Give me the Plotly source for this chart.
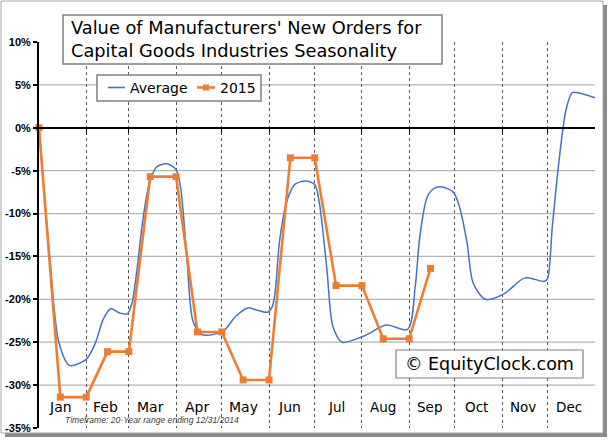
import plotly.graph_objects as go

# ---- data ----
months = ["Jan", "Feb", "Mar", "Apr", "May", "Jun", "Jul", "Aug", "Sep", "Oct", "Nov", "Dec"]
month_start_day = [0, 31, 59, 90, 120, 151, 181, 212, 243, 273, 304, 334]
month_end_day = [31, 59, 90, 120, 151, 181, 212, 243, 273, 304, 334, 365]

avg_day = [0, 7, 13, 20, 31, 37, 42, 47, 53, 58, 61, 64, 68, 72, 77, 84, 90, 93, 97, 101, 106, 110,
           121, 129, 137, 144, 150, 153, 155, 158, 163, 168, 175, 181, 184, 189, 193, 199,
           213, 228, 242, 247, 250, 255, 260, 265, 272, 276, 281, 285, 293,
           305, 319, 332, 334, 337, 342, 346, 350, 353, 365]
avg_val = [0.0, -15.0, -25.0, -27.7, -27.0, -25.1, -22.4, -21.1, -21.6, -21.7, -20.5, -17.0, -11.0, -6.8, -4.6, -4.2, -4.9, -7.0, -15.0, -22.5, -24.0, -24.2,
           -23.7, -22.0, -21.0, -21.3, -21.5, -20.9, -19.2, -13.1, -8.4, -6.6, -6.2, -6.6, -8.7, -16.5, -23.2, -25.0,
           -24.3, -23.0, -23.5, -18.5, -12.7, -8.0, -7.0, -6.9, -7.5, -9.2, -13.4, -18.1, -20.0,
           -19.4, -17.5, -17.9, -17.5, -11.5, -2.9, 2.1, 4.1, 4.1, 3.5]

y2015_day = [0, 14, 31, 45, 59, 73, 90, 104, 120, 134, 151, 165, 181, 195, 212, 226, 243, 257]
y2015_val = [0.0, -31.4, -31.4, -26.1, -26.1, -5.7, -5.7, -23.8, -23.8, -29.4, -29.4, -3.5, -3.5, -18.4, -18.4, -24.6, -24.6, -16.4]

y_ticks = [-35, -30, -25, -20, -15, -10, -5, 0, 5, 10]
y_tick_text = ["-35%", "-30%", "-25%", "-20%", "-15%", "-10%", "-5%", "0%", "5%", "10%"]

BLUE = "#4472C4"
ORANGE = "#ED7D31"
FONT = "DejaVu Sans"

fig = go.Figure()
fig.add_trace(go.Scatter(x=avg_day, y=avg_val, mode="lines", name="Average",
                         line=dict(color=BLUE, width=1.5, shape="spline", smoothing=0.8),
                         cliponaxis=False))
fig.add_trace(go.Scatter(x=y2015_day, y=y2015_val, mode="lines+markers", name="2015",
                         line=dict(color=ORANGE, width=2.6),
                         marker=dict(symbol="square", size=7, color=ORANGE),
                         cliponaxis=False))

W, H = 609, 443
L, R, T, B = 39, 14, 42, 15
PW, PH = W - L - R, H - T - B


def px(x):
    return (x - L) / PW


def py(y):
    return (H - B - y) / PH


shapes = []
# outer frame with shadow
shapes.append(dict(type="rect", xref="paper", yref="paper", x0=px(5), x1=px(607), y0=py(437), y1=py(5),
                   fillcolor="#8a8a8a", line=dict(width=0), layer="below"))
shapes.append(dict(type="rect", xref="paper", yref="paper", x0=px(1), x1=px(603), y0=py(433), y1=py(1),
                   fillcolor="white", line=dict(color="#A6A6A6", width=1), layer="below"))
# horizontal gridlines
for v in y_ticks:
    if v in (0, 10, -35):
        continue
    shapes.append(dict(type="line", xref="paper", yref="y", x0=0, x1=1, y0=v, y1=v,
                       line=dict(color="#B4B4B4", width=1.3), layer="below"))
# title box
shapes.append(dict(type="rect", xref="paper", yref="paper", x0=px(63), x1=px(442), y0=py(64), y1=py(15),
                   fillcolor="white", line=dict(color="#7f7f7f", width=1.5), layer="above"))
# legend box
shapes.append(dict(type="rect", xref="paper", yref="paper", x0=px(97), x1=px(261), y0=py(101), y1=py(75),
                   fillcolor="white", line=dict(color="#7f7f7f", width=1.5), layer="above"))
shapes.append(dict(type="line", xref="paper", yref="paper", x0=px(108), x1=px(125), y0=py(87.5), y1=py(87.5),
                   line=dict(color=BLUE, width=1.6), layer="above"))
shapes.append(dict(type="line", xref="paper", yref="paper", x0=px(197), x1=px(215), y0=py(87.5), y1=py(87.5),
                   line=dict(color=ORANGE, width=2.6), layer="above"))
shapes.append(dict(type="rect", xref="paper", yref="paper", x0=px(203), x1=px(209), y0=py(90.5), y1=py(84.5),
                   fillcolor=ORANGE, line=dict(width=0), layer="above"))
# watermark box
shapes.append(dict(type="rect", xref="paper", yref="paper", x0=px(396), x1=px(583), y0=py(378), y1=py(350),
                   fillcolor="white", line=dict(color="#7f7f7f", width=1.2), layer="above"))

annotations = []
annotations.append(dict(xref="paper", yref="paper", x=px(69), y=py(39.5), xanchor="left", yanchor="middle",
                        align="left", showarrow=False,
                        text="Value of Manufacturers' New Orders for<br>Capital Goods Industries Seasonality",
                        font=dict(family=FONT, size=17.8, color="black")))
annotations.append(dict(xref="paper", yref="paper", x=px(128), y=py(87.5), xanchor="left", yanchor="middle",
                        showarrow=False, text="Average", font=dict(family=FONT, size=14, color="black")))
annotations.append(dict(xref="paper", yref="paper", x=px(218), y=py(87.5), xanchor="left", yanchor="middle",
                        showarrow=False, text="2015", font=dict(family=FONT, size=14, color="black")))
annotations.append(dict(xref="paper", yref="paper", x=px(489.5), y=py(364), xanchor="center", yanchor="middle",
                        showarrow=False, text="© EquityClock.com", font=dict(family=FONT, size=17.5, color="black")))
annotations.append(dict(xref="paper", yref="paper", x=px(152), y=py(420), xanchor="center", yanchor="middle",
                        showarrow=False, text="<i>Timeframe: 20-Year range ending 12/31/2014</i>",
                        font=dict(family="Liberation Sans", size=8.6, color="#404040")))
for i, m in enumerate(months):
    mid = (month_start_day[i] + month_end_day[i]) / 2 - 1.5
    annotations.append(dict(xref="x", yref="y", x=mid, y=-32.5, xanchor="center", yanchor="middle",
                            showarrow=False, text=m,
                            font=dict(family=FONT, size=14 if i < 6 else 13.5, color="black")))

fig.update_layout(
    width=W, height=H,
    margin=dict(l=L, r=R, t=T, b=B, pad=0, autoexpand=False),
    paper_bgcolor="white", plot_bgcolor="rgba(0,0,0,0)",
    showlegend=False,
    shapes=shapes, annotations=annotations,
    xaxis=dict(range=[0, 365], tickvals=month_end_day[:-1], showticklabels=False,
               showgrid=True, gridcolor="#555555", gridwidth=1, griddash="dot",
               showline=True, linecolor="black", linewidth=2,
               ticks="outside", ticklen=4, tickcolor="black", tickwidth=1,
               anchor="free", position=35 / 45, zeroline=False, fixedrange=True,
               automargin=False),
    yaxis=dict(range=[-35, 10], tickvals=y_ticks, ticktext=y_tick_text,
               showgrid=False, zeroline=False,
               showline=True, linecolor="black", linewidth=2,
               ticks="outside", ticklen=4, tickcolor="black", tickwidth=1.5,
               tickfont=dict(family="Liberation Sans", size=11, color="black", weight="bold"),
               fixedrange=True, automargin=False),
)

fig.write_html("out.html", config={"displayModeBar": False},
               post_script="document.body.style.margin='0';document.body.style.padding='0';"
                           "document.documentElement.style.overflow='hidden';")
